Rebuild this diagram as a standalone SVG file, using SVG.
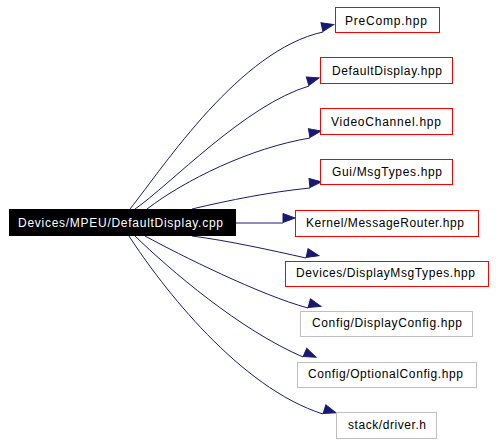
<svg xmlns="http://www.w3.org/2000/svg" width="496" height="445" viewBox="0 0 496 445">
<style>
.bg{fill:#ffffff}
.n rect{fill:#ffffff;stroke:#ff0000;stroke-width:1}
.n.g rect{stroke:#bfbfbf}
.n text{font-family:"Liberation Sans",Arial,sans-serif;font-size:12px;fill:#000000}
#main rect{fill:#000000;stroke:#000000}
#main text{fill:#ffffff}
.e path{fill:none;stroke:#191970;stroke-width:1;marker-end:url(#ah)}
</style>
<defs>
<marker id="ah" markerUnits="userSpaceOnUse" markerWidth="14" markerHeight="12" refX="0" refY="5" orient="auto" viewBox="0 -5 14 10" overflow="visible">
<path d="M0,-4.5 L12,0 L0,4.5 z" fill="#191970" stroke="#191970" stroke-width="1"/>
</marker>
</defs>
<rect class="bg" x="0" y="0" width="496" height="445"/>
<g id="edges" class="e">
<path d="M130,209 C165,165 240,50 323,32"/>
<path d="M135,209 C170,185 245,105 309,86"/>
<path d="M147,209 C185,180 250,148 310,138"/>
<path d="M192,209 C230,200 270,192 310,188"/>
<path d="M236,223 L283,223"/>
<path d="M192,236 C230,241 270,250 306,258"/>
<path d="M145,236 C180,255 260,295 308,308"/>
<path d="M135,236 C170,270 240,330 303,357"/>
<path d="M129,236 C162,287 240,388 323,414"/>
</g>
<g id="main" class="n">
<rect x="9.5" y="209.5" width="226" height="26"/>
<text x="18" y="227" textLength="205" lengthAdjust="spacing">Devices/MPEU/DefaultDisplay.cpp</text>
</g>
<g id="precomp" class="n">
<rect x="335.5" y="7.5" width="104" height="25"/>
<text x="345" y="25" textLength="82" lengthAdjust="spacing">PreComp.hpp</text>
</g>
<g id="defaultdisplay" class="n">
<rect x="320.5" y="57.5" width="132" height="26"/>
<text x="332" y="75" textLength="110" lengthAdjust="spacing">DefaultDisplay.hpp</text>
</g>
<g id="videochannel" class="n">
<rect x="320.5" y="108.5" width="132" height="26"/>
<text x="331" y="126" textLength="110" lengthAdjust="spacing">VideoChannel.hpp</text>
</g>
<g id="guimsgtypes" class="n">
<rect x="320.5" y="159.5" width="132" height="25"/>
<text x="332" y="176" textLength="110" lengthAdjust="spacing">Gui/MsgTypes.hpp</text>
</g>
<g id="messagerouter" class="n">
<rect x="295.5" y="210.5" width="183" height="26"/>
<text x="306" y="227" textLength="158" lengthAdjust="spacing">Kernel/MessageRouter.hpp</text>
</g>
<g id="displaymsgtypes" class="n">
<rect x="285.5" y="261.5" width="203" height="25"/>
<text x="296" y="277" textLength="179" lengthAdjust="spacing">Devices/DisplayMsgTypes.hpp</text>
</g>
<g id="displayconfig" class="n g">
<rect x="300.5" y="311.5" width="172" height="25"/>
<text x="312" y="327" textLength="150" lengthAdjust="spacing">Config/DisplayConfig.hpp</text>
</g>
<g id="optionalconfig" class="n g">
<rect x="297.5" y="362.5" width="179" height="25"/>
<text x="308" y="378" textLength="155" lengthAdjust="spacing">Config/OptionalConfig.hpp</text>
</g>
<g id="driver" class="n g">
<rect x="336.5" y="412.5" width="100" height="26"/>
<text x="348" y="429" textLength="78" lengthAdjust="spacing">stack/driver.h</text>
</g>
</svg>
